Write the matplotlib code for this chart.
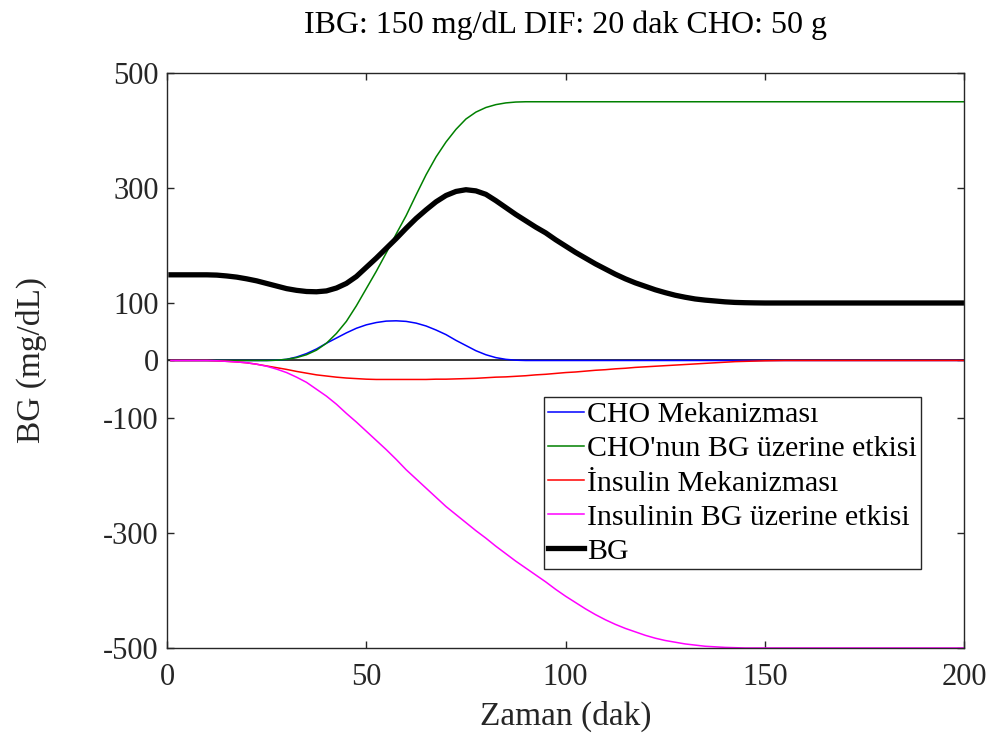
import matplotlib
matplotlib.use('Agg')
import matplotlib.pyplot as plt

plt.rcParams['font.family'] = ['Liberation Serif', 'DejaVu Serif']
plt.rcParams['axes.unicode_minus'] = False

# time [dak]
t = [1, 2.5, 5, 7.5, 10, 12.5, 15, 17.5, 20, 22.5, 25, 27.5, 30, 32.5, 35, 37.5, 40, 42.5, 45, 47.5,
     50, 52.5, 55, 57.5, 60, 62.5, 65, 67.5, 70, 72.5, 75, 77.5, 80, 82.5, 85, 87.5, 90, 92.5, 95, 97.5,
     100, 102.5, 105, 107.5, 110, 112.5, 115, 117.5, 120, 122.5, 125, 127.5, 130, 132.5, 135, 137.5, 140, 142.5, 145, 147.5,
     150, 155, 160, 170, 180, 190, 200]

cho_mech = [0, 0, 0, 0, 0, 0, 0, 0, 0, 0, 0, 0.5, 2, 6, 12, 20, 30, 39, 48, 56,
            62, 66, 68.5, 69, 68, 65, 60, 53, 45, 35, 26, 17, 10, 5, 2, 0.5, 0, 0, 0, 0,
            0, 0, 0, 0, 0, 0, 0, 0, 0, 0, 0, 0, 0, 0, 0, 0, 0, 0, 0, 0,
            0, 0, 0, 0, 0, 0, 0]
cho_bg = [0, 0, 0, 0, 0, 0, 0, 0, 0, 0, 0, 0.5, 2, 5, 10, 18, 30, 47, 68, 95,
          125, 155, 187, 220, 252, 288, 323, 354, 380, 402, 420, 432, 440, 445, 448, 449.5, 450, 450, 450, 450,
          450, 450, 450, 450, 450, 450, 450, 450, 450, 450, 450, 450, 450, 450, 450, 450, 450, 450, 450, 450,
          450, 450, 450, 450, 450, 450, 450]
ins_mech = [0, 0, 0, 0, 0, -0.5, -1.5, -2.5, -4, -6.5, -9.5, -12.5, -15.5, -19, -22, -25, -27, -29, -30.5, -31.5,
            -32.5, -33, -33, -33, -33, -33, -33, -32.5, -32.5, -32, -31.5, -31, -30, -29, -28.5, -27.5, -26.5, -25, -24, -22.5,
            -21, -20, -18.5, -17, -16, -14.5, -13.5, -12, -11, -10, -9, -8, -7, -6, -5, -4, -3, -2, -1.5, -1,
            -0.5, 0, 0, 0, 0, 0, 0]
ins_bg = [0, 0, 0, 0, 0, -0.5, -1.5, -2.5, -4, -6.5, -10, -15, -21, -29, -38, -50, -62, -76, -92, -107,
          -123, -139, -155, -172, -190, -206, -222, -238, -254, -268, -282, -296, -309, -323, -336, -349, -361, -373, -385, -398,
          -410, -421, -432, -442, -451, -459, -466, -472, -478, -483, -487, -490, -493, -495, -497, -498, -499, -499.5, -500, -500,
          -500, -500, -500, -500, -500, -500, -500]
bg = [149, 149, 149, 149, 149, 148.5, 147, 145, 142, 138.5, 134, 129.5, 125, 122, 120, 119.5, 121, 126, 134, 146,
      162, 178, 195, 212, 230, 247, 262, 276, 287, 294, 297, 295, 289, 278, 266, 254, 243, 232, 222, 210,
      199, 188, 178, 168, 159, 150, 142, 135, 129, 123, 118, 113.5, 110, 107, 105, 103.5, 102, 101, 100.5, 100.2,
      100, 100, 100, 100, 100, 100, 100]

fig = plt.figure(figsize=(9.94, 7.33), dpi=100)
ax = fig.add_axes([0.168, 0.116, 0.802, 0.7844])

ax.axhline(0, color='k', lw=1.1, zorder=1)
ax.plot(t, cho_mech, color=(0, 0, 1), lw=1.1, label='CHO Mekanizması')
ax.plot(t, cho_bg, color=(0, 0.5, 0), lw=1.1, label="CHO'nun BG üzerine etkisi")
ax.plot(t, ins_mech, color=(1, 0, 0), lw=1.1, label='İnsulin Mekanizması')
ax.plot(t, ins_bg, color=(1, 0, 1), lw=1.1, label='Insulinin BG üzerine etkisi')
ax.plot(t, bg, color='k', lw=3.8, label='BG')

ax.set_xlim(0, 200)
ax.set_ylim(-500, 500)
ax.set_xticks([0, 50, 100, 150, 200])
ax.set_yticks([-500, -300, -100, 0, 100, 300, 500])

gray = (0.15, 0.15, 0.15)
for s in ax.spines.values():
    s.set_color(gray)
    s.set_linewidth(1.0)
ax.tick_params(direction='in', length=5, width=1.0, colors=gray, labelsize=22,
               top=True, right=True, labelcolor=gray, pad=6)
ax.tick_params(axis='x', pad=11)

ax.set_xlabel('Zaman (dak)', fontsize=24, color=gray, labelpad=6)
ax.set_ylabel('BG (mg/dL)', fontsize=24, color=gray, labelpad=40)
ax.set_title('IBG: 150 mg/dL DIF: 20 dak CHO: 50 g', fontsize=23, color='k', pad=29)

leg = ax.legend(loc='upper right', bbox_to_anchor=(0.946, 0.4365), fontsize=21.5,
                fancybox=False, framealpha=1, edgecolor=gray, handlelength=1.2,
                handletextpad=0.1, labelspacing=0.24, borderpad=0.15, borderaxespad=0)
leg.get_frame().set_linewidth(1.0)

fig.savefig('out.png', dpi=100)
